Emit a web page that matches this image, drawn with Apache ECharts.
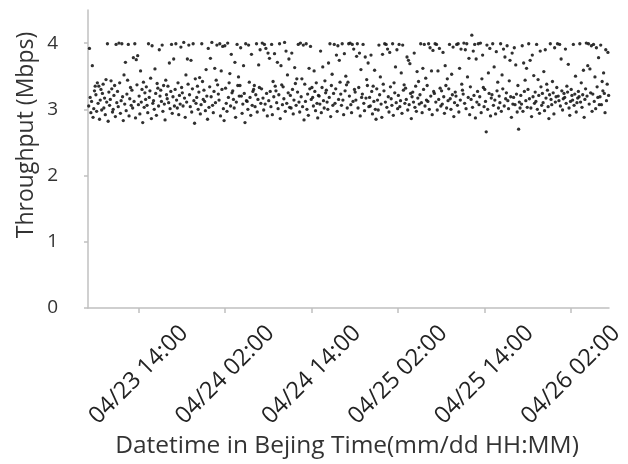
<!DOCTYPE html>
<html>
<head>
<meta charset="utf-8">
<script src="https://cdn.jsdelivr.net/npm/echarts@6/dist/echarts.min.js"></script>
<style>html,body{margin:0;padding:0;background:#fff}#c{width:628px;height:464px}</style>
</head>
<body>
<div id="c"></div>
<script>
// Time index: hours counted from 04/23 02:00 (Beijing time); one sample every 6 minutes
const startHour = 5.05;
const stepHours = 0.1;
const tickHours = [12, 24, 36, 48, 60, 72];
const tickLabels = ["04/23 14:00", "04/24 02:00", "04/24 14:00", "04/25 02:00", "04/25 14:00", "04/26 02:00"];
const yTicks = [0, 1, 2, 3, 4];
// Throughput (Mbps), in time order, 10 samples per hour
const throughput = [
3.05,3.92,3.18,2.95,3.12,3.66,2.88,3.01,3.28,3.35,
3.22,2.97,3.40,3.09,3.35,2.85,3.14,3.30,2.99,3.24,
3.38,3.02,3.17,2.92,3.45,3.11,3.99,2.82,3.26,3.06,
3.15,3.43,3.31,2.96,3.00,3.21,3.36,2.89,3.98,3.10,
3.27,3.04,4.00,3.40,2.94,3.13,3.99,3.19,2.83,3.52,
3.08,3.71,2.98,3.23,3.44,3.98,2.90,3.16,3.33,3.06,
3.29,3.02,3.78,3.12,3.99,2.87,3.75,3.37,3.81,3.07,
3.20,2.93,3.58,3.11,3.30,2.80,3.41,3.03,3.25,3.15,
3.34,3.06,2.95,3.99,3.18,3.28,3.47,2.86,3.96,3.09,
3.13,3.00,3.61,3.24,2.91,3.39,3.32,3.05,3.90,3.20,
3.29,3.12,3.97,2.97,3.36,3.08,2.84,3.44,3.22,3.16,
3.35,3.10,3.70,3.01,3.27,3.98,2.94,3.19,3.76,3.05,
3.30,3.99,3.14,3.02,3.40,2.92,3.21,3.08,3.94,3.33,
3.25,3.05,4.01,3.17,2.88,3.52,3.11,3.76,3.38,3.97,
3.22,3.04,3.74,2.96,3.31,3.99,3.13,2.79,3.46,3.09,
3.18,3.35,3.00,3.26,3.48,2.93,3.07,3.99,3.42,3.15,
3.29,3.12,2.98,3.60,3.20,2.85,3.92,3.03,3.34,3.77,
3.19,4.01,3.06,2.95,3.27,3.62,3.10,3.44,3.97,3.37,
3.23,3.14,3.99,2.90,3.58,3.30,3.95,3.01,2.83,3.96,
3.32,3.09,2.97,4.00,3.18,3.40,3.54,3.05,3.83,3.25,
3.28,3.15,3.02,3.71,2.88,3.11,3.98,3.36,3.49,3.20,
3.36,3.93,3.20,2.94,3.08,3.66,3.24,2.80,3.99,3.13,
3.12,3.00,3.97,3.41,3.18,2.91,3.83,3.06,3.27,3.30,
3.36,3.04,3.22,3.99,2.96,3.15,3.67,3.33,3.90,3.09,
3.31,4.00,3.17,2.99,3.98,3.08,3.92,3.24,2.90,3.85,
3.13,3.77,3.27,3.04,3.98,2.92,3.42,3.19,3.84,3.35,
3.28,3.10,3.71,3.01,3.22,3.99,2.86,3.66,3.37,3.07,
3.34,3.16,4.01,2.97,3.88,3.09,3.52,3.25,3.76,3.03,
3.21,3.02,3.85,3.30,2.93,3.14,3.63,3.39,3.06,3.46,
3.26,3.98,3.11,2.96,4.00,3.19,3.46,3.04,3.97,2.84,
3.38,3.12,3.99,3.00,3.23,2.91,3.62,3.31,3.95,3.15,
3.33,3.18,3.05,3.58,3.27,2.98,3.40,3.09,2.87,3.21,
3.20,3.08,3.88,2.95,3.33,3.64,3.13,3.02,3.43,3.25,
3.29,3.11,3.00,3.70,3.18,3.99,2.89,3.36,3.53,3.06,
3.24,3.98,3.09,3.31,3.82,2.97,3.96,3.15,3.74,3.41,
3.23,3.06,3.99,3.14,2.92,3.84,3.28,3.50,3.37,3.02,
3.41,3.99,3.20,4.00,3.07,2.95,3.98,3.12,3.91,3.30,
3.26,3.14,3.80,3.99,3.02,3.33,3.85,2.90,3.60,3.18,
3.23,3.98,3.09,2.98,3.79,3.17,3.45,3.36,3.70,3.04,
3.18,3.05,3.82,3.27,2.93,3.35,3.12,3.59,3.00,2.85,
3.31,3.14,2.99,3.97,3.22,3.49,3.08,2.88,3.83,3.38,
3.28,3.99,3.11,3.98,3.03,3.91,3.19,2.96,3.86,3.34,
3.16,3.06,3.99,2.91,3.40,3.25,3.64,3.10,3.90,3.01,
3.21,3.98,3.04,3.13,3.55,2.94,3.97,3.29,3.37,3.09,
3.32,3.15,3.79,2.99,3.74,3.07,3.69,3.24,2.86,3.19,
3.26,3.11,3.85,3.03,3.35,2.97,3.57,3.17,3.42,3.08,
3.22,3.99,3.10,2.95,3.62,3.30,3.98,3.05,3.47,3.14,
3.36,3.12,3.99,3.00,3.93,3.20,3.58,2.92,3.89,3.27,
3.24,3.99,3.11,3.98,2.99,3.58,3.15,3.92,3.32,3.05,
3.28,3.08,3.86,3.19,2.94,3.66,3.36,3.02,3.46,3.13,
3.31,3.98,3.16,3.00,3.53,3.22,3.94,2.89,3.10,3.26,
3.20,3.98,3.06,3.99,2.96,3.62,3.14,3.91,3.38,3.29,
3.23,4.00,3.09,3.90,3.01,3.99,3.49,3.18,3.77,2.92,
3.34,3.15,4.12,3.03,3.88,3.21,3.98,2.87,3.76,3.11,
3.27,3.99,3.07,3.19,4.00,2.95,3.46,3.82,3.33,3.04,
3.30,3.12,2.66,3.97,3.00,3.55,3.24,3.92,2.90,3.17,
3.22,3.99,3.06,3.64,3.14,2.93,3.87,3.28,3.41,3.02,
3.20,3.10,3.99,2.97,3.52,3.31,3.91,3.05,3.79,3.16,
3.25,3.96,3.13,3.01,3.43,3.74,3.19,2.88,3.85,3.08,
3.18,3.93,3.07,3.67,3.23,2.96,3.36,2.70,3.11,3.02,
3.21,3.08,3.96,2.97,3.70,3.27,3.44,3.13,3.62,3.03,
3.30,3.99,3.16,3.74,3.02,2.89,3.82,3.19,3.51,3.09,
3.26,3.12,3.98,3.00,3.45,3.21,2.94,3.88,3.34,3.06,
3.24,3.10,3.57,2.98,3.90,3.17,3.38,3.29,3.04,2.86,
3.22,3.99,3.15,3.07,3.42,3.25,2.93,3.93,3.11,3.19,
3.33,3.99,3.20,3.13,3.98,3.05,3.76,3.28,2.99,3.16,
3.24,3.18,3.91,3.09,3.35,3.26,3.68,3.02,2.91,3.12,
3.30,3.21,3.14,3.98,3.06,3.23,3.50,2.96,3.10,3.17,
3.27,3.19,3.99,3.11,3.40,3.03,3.22,3.59,2.88,3.15,
3.31,4.00,3.20,3.66,3.99,3.08,3.61,3.25,3.96,2.97,
3.23,3.98,3.12,3.49,3.01,3.93,3.34,3.18,3.78,3.07,
3.19,3.97,3.07,3.42,3.28,3.55,3.24,2.95,3.90,3.13,
3.38,3.86,3.21
];

const points = throughput.map((v, i) => [startHour + i * stepHours, v]);
const FONT = '"Open Sans", "DejaVu Sans", sans-serif';
const chart = echarts.init(document.getElementById('c'), null, {renderer: 'canvas'});
chart.setOption({
  animation: false,
  backgroundColor: '#ffffff',
  grid: {left: 88, right: 19, top: 10, bottom: 156, containLabel: false},
  xAxis: {
    type: 'value', min: 4.95, max: 77.3,
    splitLine: {show: false},
    axisLine: {show: true, lineStyle: {color: '#c0c0c0', width: 1.5}},
    axisTick: {show: true, customValues: tickHours, length: 5, lineStyle: {color: '#c0c0c0', width: 1.5}},
    axisLabel: {
      customValues: tickHours,
      formatter: (v) => tickLabels[tickHours.indexOf(v)],
      rotate: 45, align: 'center', verticalAlign: 'middle', margin: 67,
      fontSize: 23.5, color: '#222', fontFamily: FONT
    }
  },
  yAxis: {
    type: 'value', min: 0, max: 4.5, interval: 1,
    splitLine: {show: false},
    axisLine: {show: true, lineStyle: {color: '#c0c0c0', width: 1.5}},
    axisTick: {show: true, customValues: yTicks, length: 4, lineStyle: {color: '#c0c0c0', width: 1.5}},
    axisLabel: {customValues: yTicks, margin: 30, fontSize: 19, color: '#333', fontFamily: FONT}
  },
  series: [{
    type: 'scatter',
    data: points,
    symbolSize: 3.3,
    itemStyle: {color: '#1a1a1a', opacity: 0.9}
  }],
  graphic: [
    {type: 'text', x: 26, y: 135, rotation: Math.PI / 2,
     style: {text: 'Throughput (Mbps)', fontSize: 23, fill: '#333', fontFamily: FONT, textAlign: 'center', textVerticalAlign: 'middle'}},
    {type: 'text', x: 347, y: 446,
     style: {text: 'Datetime in Bejing Time(mm/dd HH:MM)', fontSize: 24.5, fill: '#333', fontFamily: FONT, textAlign: 'center', textVerticalAlign: 'middle'}}
  ]
});
</script>
</body>
</html>
